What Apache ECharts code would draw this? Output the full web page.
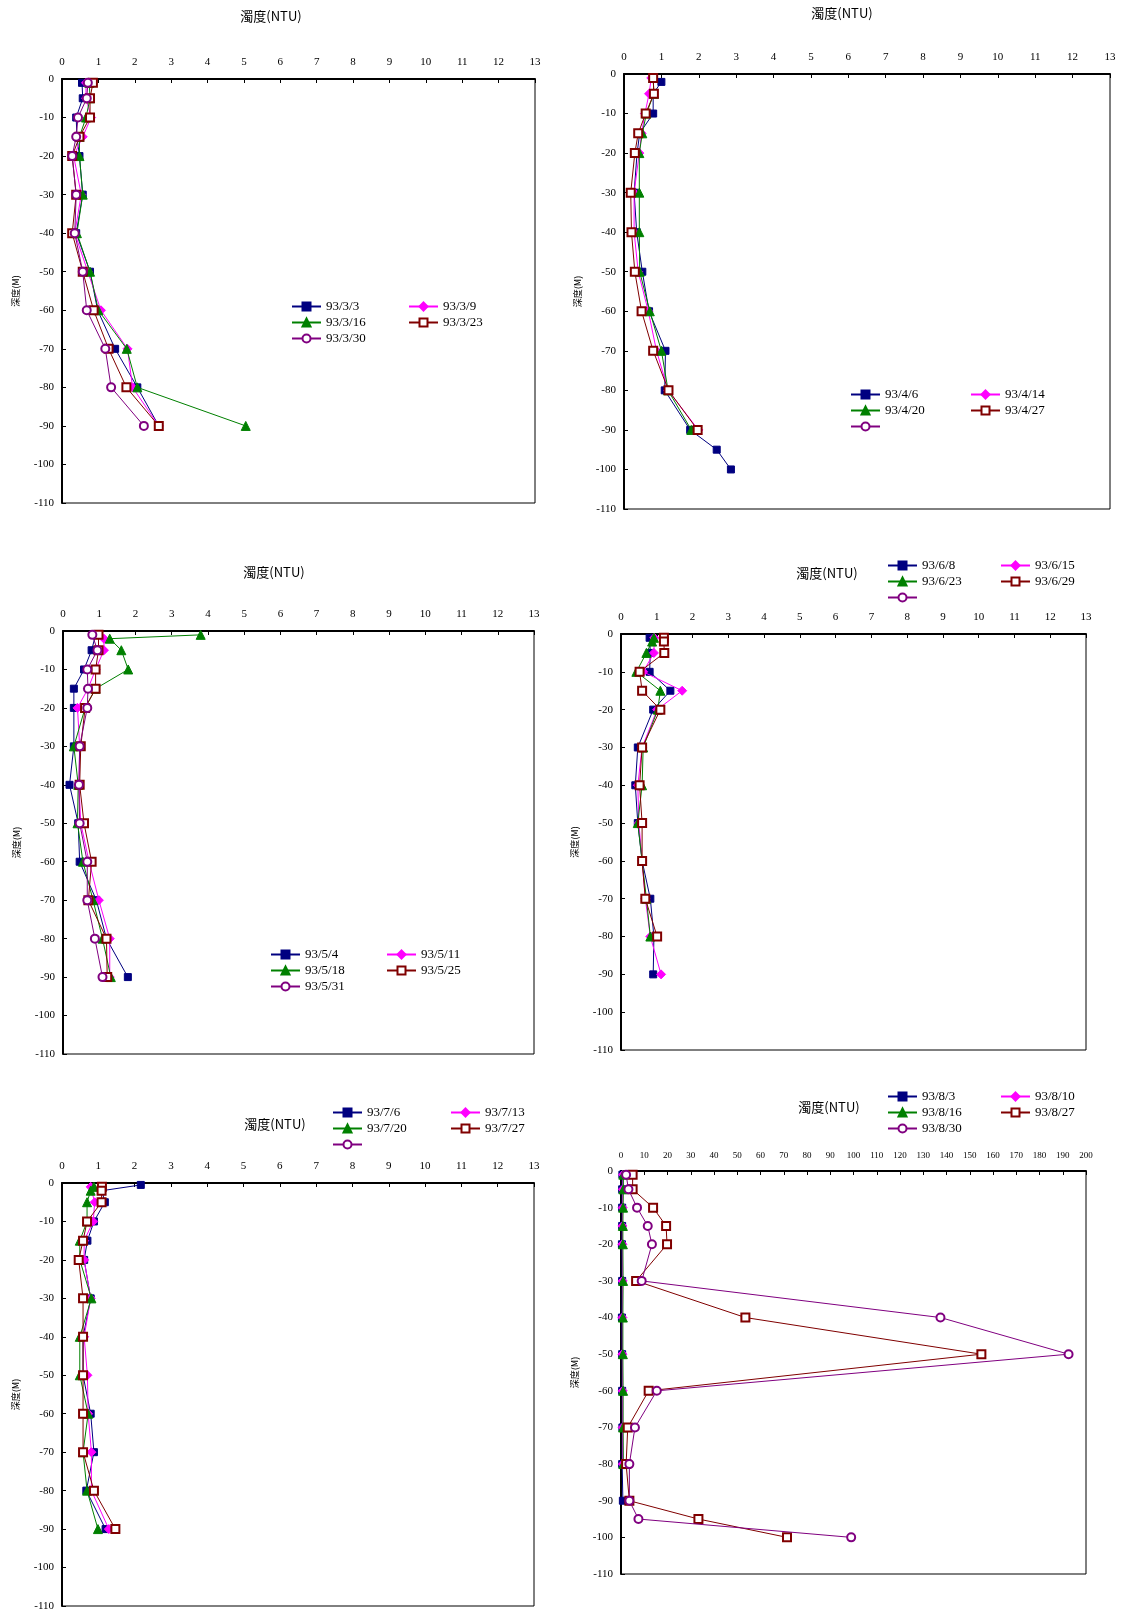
<!DOCTYPE html>
<html><head><meta charset="utf-8">
<script src="https://cdn.jsdelivr.net/npm/echarts@6/dist/echarts.min.js"></script>
<style>html,body{margin:0;padding:0;background:#fff}#c{width:1122px;height:1614px}</style>
</head><body><div id="c"></div>
<script>
// ---------- DATA ----------
const dStd = [-1,-5,-10,-15,-20,-30,-40,-50,-60,-70,-80,-90];

// Panel 1 (93/3)
const names1 = ['93/3/3','93/3/9','93/3/16','93/3/23','93/3/30'];
const p1_navy = [0.55,0.57,0.39,0.41,0.48,0.57,0.39,0.77,0.98,1.46,2.07,2.66];
const p1_mag  = [0.66,0.66,0.80,0.57,0.32,0.53,0.35,0.71,1.07,1.80,1.94,2.66];
const p1_grn  = [0.75,0.77,0.66,0.48,0.48,0.57,0.41,0.77,1.00,1.78,2.07,5.05];
const p1_mar  = [0.85,0.77,0.77,0.48,0.28,0.39,0.28,0.57,0.87,1.28,1.77,2.66];
const p1_pur  = [0.71,0.68,0.44,0.39,0.28,0.39,0.35,0.57,0.68,1.19,1.35,2.25];

// Panel 2 (93/4)
const names2 = ['93/4/6','93/4/14','93/4/20','93/4/27',' '];
const d2_navy = [-2,-5,-10,-15,-20,-30,-40,-50,-60,-70,-80,-90,-95,-100];
const p2_navy = [1.00,0.78,0.78,0.42,0.35,0.27,0.34,0.49,0.67,1.11,1.09,1.77,2.48,2.86];
const p2_mag  = [0.73,0.67,0.56,0.47,0.41,0.27,0.27,0.38,0.65,0.87,1.18,1.99];
const p2_grn  = [0.78,0.80,0.60,0.49,0.41,0.41,0.41,0.42,0.69,1.00,1.18,1.80];
const p2_mar  = [0.78,0.80,0.58,0.38,0.29,0.18,0.20,0.29,0.47,0.78,1.19,1.97];

// Panel 3 (93/5)
const names3 = ['93/5/4','93/5/11','93/5/18','93/5/25','93/5/31'];
const d3_mag = [-2,-5,-10,-15,-20,-30,-40,-50,-60,-70,-80,-90];
const d3_grn = [-1,-2,-5,-10,-15,-20,-30,-40,-50,-60,-70,-80,-90];
const p3_navy = [0.90,0.79,0.58,0.30,0.30,0.30,0.18,0.42,0.46,0.92,1.20,1.79];
const p3_mag  = [1.13,1.13,0.90,0.69,0.40,0.46,0.44,0.49,0.72,0.99,1.29,1.29];
const p3_grn  = [3.80,1.29,1.61,1.80,0.90,0.61,0.30,0.42,0.40,0.55,0.83,1.09,1.32];
const p3_mar  = [0.98,0.98,0.90,0.90,0.61,0.49,0.46,0.58,0.79,0.70,1.20,1.22];
const p3_pur  = [0.81,0.95,0.67,0.69,0.67,0.46,0.44,0.46,0.67,0.67,0.88,1.09];

// Panel 4 (93/6)
const names4 = ['93/6/8','93/6/15','93/6/23','93/6/29',' '];
const d4_gm = [-1,-2,-5,-10,-15,-20,-30,-40,-50,-60,-70,-80];
const p4_navy = [0.80,0.82,0.80,1.38,0.90,0.47,0.40,0.47,0.59,0.82,0.92,0.90];
const p4_mag  = [0.93,0.92,0.62,1.71,1.01,0.59,0.47,0.50,0.59,0.68,0.82,1.12];
const p4_grn  = [0.92,0.87,0.71,0.43,1.10,1.03,0.62,0.59,0.47,0.59,0.71,0.82];
const p4_mar  = [1.20,1.20,1.21,0.52,0.59,1.10,0.59,0.52,0.59,0.59,0.68,1.01];

// Panel 5 (93/7)
const names5 = ['93/7/6','93/7/13','93/7/20','93/7/27',' '];
const d5_navy = [-0.5,-2,-5,-10,-15,-20,-30,-40,-50,-60,-70,-80,-90];
const d5_gm = [-1,-2,-5,-10,-15,-20,-30,-40,-50,-60,-70,-80,-90];
const p5_navy = [2.17,1.10,1.18,0.88,0.70,0.61,0.79,0.58,0.58,0.79,0.88,0.67,1.20];
const p5_mag  = [0.79,0.90,0.86,0.61,0.61,0.79,0.61,0.70,0.72,0.81,0.81,1.29];
const p5_grn  = [0.88,0.79,0.69,0.69,0.49,0.49,0.81,0.49,0.49,0.72,0.58,0.69,0.99];
const p5_mar  = [1.10,1.09,1.09,0.69,0.58,0.46,0.58,0.58,0.58,0.58,0.58,0.88,1.47];

// Panel 6 (93/8)
const names6 = ['93/8/3','93/8/10','93/8/16','93/8/27','93/8/30'];
const d6_long = [-1,-5,-10,-15,-20,-30,-40,-50,-60,-70,-80,-90,-95,-100];
const p6_navy = [0.6,0.5,0.5,0.5,0.4,0.5,0.4,0.5,0.5,0.6,0.5,0.8];
const p6_mag  = [0.9,0.8,0.7,0.6,0.6,0.7,0.6,0.6,0.7,0.7,0.8];
const p6_grn  = [1.0,1.0,0.9,0.8,0.8,0.9,0.8,0.8,0.9,0.9,1.0];
const p6_mar  = [5.0,5.0,13.8,19.4,19.8,6.5,53.5,155,11.9,2.9,2.2,3.6,33.3,71.4];
const p6_pur  = [2.2,3.2,6.9,11.5,13.3,8.9,137.4,192.5,15.4,6.0,3.6,3.6,7.5,99];

const xTitle = '濁度(NTU)';
const yTitle = '深度(M)';

// ---------- STYLES / LAYOUT ----------
const STY = [
  {color:'#000080', symbol:'rect', size:7},
  {color:'#FF00FF', symbol:'diamond', size:9},
  {color:'#008000', symbol:'triangle', size:9},
  {color:'#800000', symbol:'emptyRect', size:8},
  {color:'#800080', symbol:'emptyCircle', size:8}
];

const panels = [
  {grid:{left:62,top:79,width:473,height:424}, xmax:13, xint:1, xfs:11,
   title:[271,16], leg:[291,408,300], names:names1,
   series:[[dStd,p1_navy],[dStd,p1_mag],[dStd,p1_grn],[dStd,p1_mar],[dStd,p1_pur]]},
  {grid:{left:624,top:74,width:486,height:435}, xmax:13, xint:1, xfs:11,
   title:[842,13], leg:[850,970,388], names:names2,
   series:[[d2_navy,p2_navy],[dStd,p2_mag],[dStd,p2_grn],[dStd,p2_mar],[[],[]]]},
  {grid:{left:63,top:631,width:471,height:423}, xmax:13, xint:1, xfs:11,
   title:[274,572], leg:[270,386,948], names:names3,
   series:[[dStd,p3_navy],[d3_mag,p3_mag],[d3_grn,p3_grn],[dStd,p3_mar],[dStd,p3_pur]]},
  {grid:{left:621,top:634,width:465,height:416}, xmax:13, xint:1, xfs:11,
   title:[827,573], leg:[887,1000,559], names:names4,
   series:[[dStd,p4_navy],[dStd,p4_mag],[d4_gm,p4_grn],[d4_gm,p4_mar],[[],[]]]},
  {grid:{left:62,top:1183,width:472,height:423}, xmax:13, xint:1, xfs:11,
   title:[275,1124], leg:[332,450,1106], names:names5,
   series:[[d5_navy,p5_navy],[dStd,p5_mag],[d5_gm,p5_grn],[d5_gm,p5_mar],[[],[]]]},
  {grid:{left:621,top:1171,width:465,height:403}, xmax:200, xint:10, xfs:9,
   title:[829,1107], leg:[887,1000,1090], names:names6,
   series:[[dStd,p6_navy],[dStd,p6_mag],[dStd,p6_grn],[d6_long,p6_mar],[d6_long,p6_pur]]}
];

const option = {animation:false, backgroundColor:'#fff',
  grid:[], xAxis:[], yAxis:[], series:[], legend:[], graphic:[]};

const serif = 'Liberation Serif';
const cjk = '"Noto Sans CJK TC","Noto Sans CJK SC",sans-serif';

panels.forEach((p, i) => {
  option.grid.push(Object.assign({show:true, borderColor:'#000', borderWidth:1, backgroundColor:'#fff'}, p.grid));
  option.xAxis.push({type:'value', gridIndex:i, position:'top', min:0, max:p.xmax, interval:p.xint,
    axisLine:{show:true, onZero:false, lineStyle:{color:'#000', width:2}},
    axisTick:{show:true, inside:true, length:4, lineStyle:{color:'#000'}},
    axisLabel:{fontFamily:serif, fontSize:p.xfs, color:'#000', margin:11},
    splitLine:{show:false}});
  option.yAxis.push({type:'value', gridIndex:i, min:-110, max:0, interval:10,
    name:yTitle, nameLocation:'middle', nameGap:42, nameRotate:90,
    nameTextStyle:{fontFamily:cjk, fontSize:9, color:'#000'},
    axisLine:{show:true, onZero:false, lineStyle:{color:'#000', width:2}},
    axisTick:{show:true, inside:true, length:4, lineStyle:{color:'#000'}},
    axisLabel:{fontFamily:serif, fontSize:11, color:'#000', margin:8},
    splitLine:{show:false}});
  p.series.forEach((s, k) => {
    const st = STY[k];
    const depths = s[0], vals = s[1];
    const data = vals.map((v, j) => [v, depths[j]]);
    option.series.push({type:'line', name:p.names[k], xAxisIndex:i, yAxisIndex:i,
      data:data, symbol:st.symbol, symbolSize:st.size, showSymbol:true,
      color:st.color, lineStyle:{color:st.color, width:1},
      itemStyle:{color:st.color, borderColor:st.color, borderWidth:1},
      emphasis:{disabled:true}, z:2+k});
  });
  const legBase = {orient:'vertical', top:p.leg[2], itemWidth:29, itemHeight:10, itemGap:3,
    padding:0, selectedMode:false,
    textStyle:{fontFamily:serif, fontSize:13, color:'#000', lineHeight:13}};
  option.legend.push(Object.assign({}, legBase, {left:p.leg[0], data:[p.names[0], p.names[2], p.names[4]]}));
  option.legend.push(Object.assign({}, legBase, {left:p.leg[1], data:[p.names[1], p.names[3]]}));
  option.graphic.push({type:'text', x:p.title[0], y:p.title[1],
    style:{text:xTitle, font:'13px ' + cjk, fill:'#000', textAlign:'center', textVerticalAlign:'middle'}});
});

const chart = echarts.init(document.getElementById('c'), null, {renderer:'canvas'});
chart.setOption(option);
</script></body></html>
